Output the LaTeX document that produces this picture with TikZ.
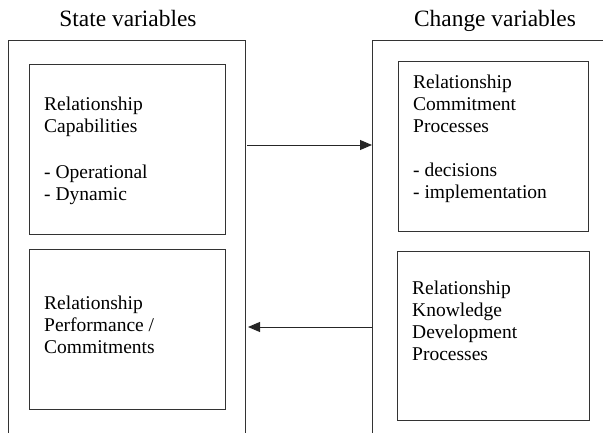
\documentclass[tikz,border=0pt]{standalone}
\usepackage{fontspec}
\setmainfont{Liberation Serif}
\newfontfamily\tnr{Liberation Serif}
\usetikzlibrary{arrows.meta}
\begin{document}
\begin{tikzpicture}[x=1pt,y=-1pt,
  frame/.style={draw=black!80,line width=0.9pt},
  panel/.style={frame,rectangle,inner sep=0pt,anchor=north west},
  body/.style={anchor=north west,align=left,inner sep=0pt,
     font=\tnr\fontsize{19.5}{22}\selectfont},
  title/.style={anchor=base,inner sep=0pt,font=\tnr\fontsize{23.4}{26}\selectfont},
  link/.style={draw=black!85,line width=0.9pt,-{Triangle[length=12pt,width=10pt]}}]
\useasboundingbox (0,0) rectangle (603,433);
\begin{scope}
\clip (0,0) rectangle (603,433);
\node[panel,minimum width=237pt,minimum height=420pt] (lo) at (8,40) {};
\node[panel,minimum width=260pt,minimum height=420pt] (ro) at (372,40) {};
\end{scope}
\node[title] (t1) at (128,27) {State variables};
\node[title] (t2) at (495,27) {Change variables};
\node[panel,minimum width=196pt,minimum height=170pt] (lt) at (29,64) {};
\node[panel,minimum width=196pt,minimum height=160pt] (lb) at (29,249) {};
\node[panel,minimum width=190pt,minimum height=170pt] (rt) at (398,61) {};
\node[panel,minimum width=192pt,minimum height=169pt] (rb) at (397,251) {};
\node[body] (ltx) at (44,97) {Relationship\\Capabilities\\[24pt]- Operational\\- Dynamic};
\node[body] (lbx) at (44,296) {Relationship\\Performance /\\Commitments};
\node[body] (rtx) at (413,75) {Relationship\\Commitment\\Processes\\[22pt]- decisions\\- implementation};
\node[body] (rbx) at (412,281) {Relationship\\Knowledge\\Development\\Processes};
\coordinate (a1) at (247,145);
\coordinate (a2) at (372,327);
\coordinate (b2) at (248,327);
\draw[link] (a1) -- (ro.west |- a1);
\draw[link] (a2) -- (b2);
\end{tikzpicture}
\end{document}
